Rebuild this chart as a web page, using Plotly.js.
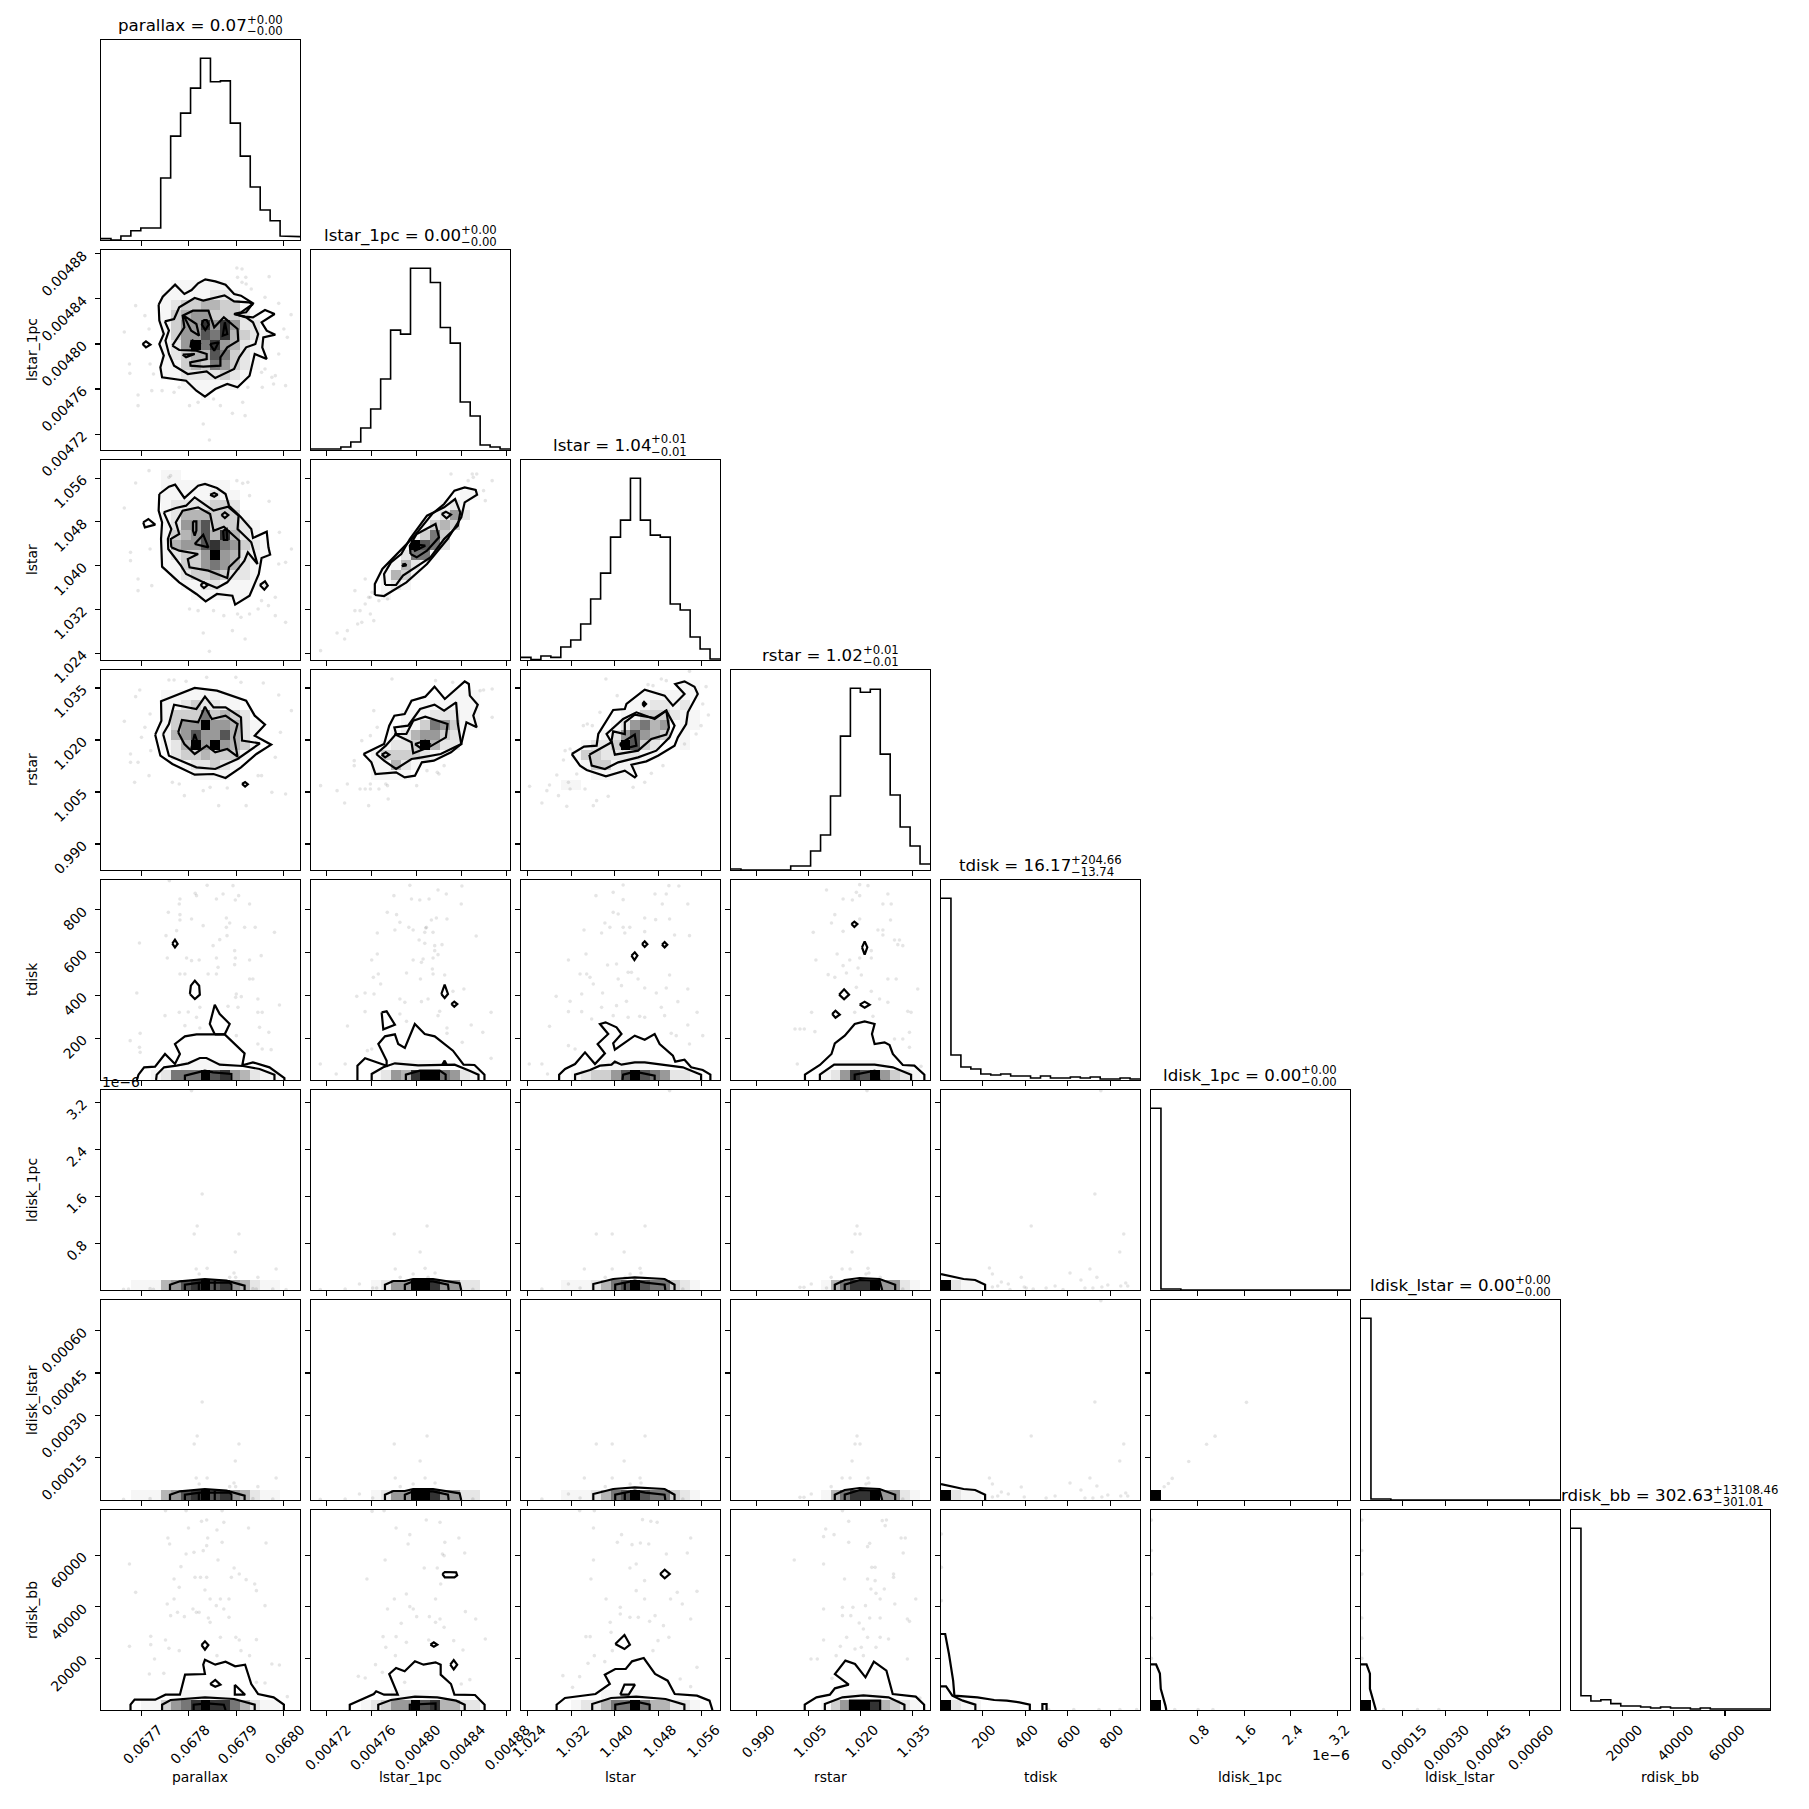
<!DOCTYPE html>
<html><head><meta charset="utf-8">
<script src="https://cdn.plot.ly/plotly-3.0.1.min.js"></script>
<style>html,body{margin:0;padding:0;background:#fff}#plot{width:1809px;height:1809px}</style></head>
<body><div id="plot"></div>
<script>
const labels = ['parallax','lstar_1pc','lstar','rstar','tdisk','ldisk_1pc','ldisk_lstar','rdisk_bb'];
const titleMain = ['parallax = 0.07','lstar_1pc = 0.00','lstar = 1.04','rstar = 1.02','tdisk = 16.17','ldisk_1pc = 0.00','ldisk_lstar = 0.00','rdisk_bb = 302.63'];
const titleUp = ['+0.00','+0.00','+0.01','+0.01','+204.66','+0.00','+0.00','+13108.46'];
const titleDown = ['−0.00','−0.00','−0.01','−0.01','−13.74','−0.00','−0.00','−301.01'];
const ranges = [[0.0676145,0.0680348],[0.0047059,0.0048834],[1.02275,1.05932],[0.9825,1.04019],[4,940],[0.006e-6,3.41e-6],[0.000001,0.000708],[0,77550]];
const tickVals = [[0.0677,0.0678,0.0679,0.068],[0.00472,0.00476,0.0048,0.00484,0.00488],[1.024,1.032,1.04,1.048,1.056],[0.99,1.005,1.02,1.035],[200,400,600,800],[0.8e-6,1.6e-6,2.4e-6,3.2e-6],[0.00015,0.0003,0.00045,0.0006],[20000,40000,60000]];
const tickText = [['0.0677','0.0678','0.0679','0.0680'],['0.00472','0.00476','0.00480','0.00484','0.00488'],['1.024','1.032','1.040','1.048','1.056'],['0.990','1.005','1.020','1.035'],['200','400','600','800'],['0.8','1.6','2.4','3.2'],['0.00015','0.00030','0.00045','0.00060'],['20000','40000','60000']];

// 1-D histograms, 20 bins each
const hist0 = [4,0,12,28,36,36,186,312,381,456,546,475,478,351,252,159,90,58,12,10];
const hist1 = [3,3,3,9,24,66,123,213,360,348,546,546,503,368,321,144,102,15,9,3];
const hist2 = [8,1,12,8,39,60,108,183,261,369,420,546,420,375,369,168,150,69,33,3];
const hist3 = [3,0,0,0,0,0,12,12,57,105,222,402,546,534,543,348,225,129,72,18];
const hist4 = [546,75,39,33,18,15,18,12,12,6,12,6,6,9,6,9,3,3,6,3];
const hist5 = [546,3,3,0,0,0,0,0,0,0,0,0,0,0,0,0,0,0,0,0];
const hist6 = [546,3,3,0,0,0,0,0,0,0,0,0,0,0,0,0,0,0,0,0];
const hist7 = [546,43,27,31,19,12,12,9,6,9,6,6,3,6,3,3,5,3,3,3];
const hists = [hist0,hist1,hist2,hist3,hist4,hist5,hist6,hist7];

// Digitising frames for the 2-D panels: [left, top, width, height] of each panel in the read-out
const frames = {'1_0':[292,748,580,600],'2_0':[292,28,580,600],'2_1':[902,28,580,600],'3_0':[292,658,580,600],'3_1':[902,658,580,600],'3_2':[32,688,600,600],
'4_0':[32,28,600,600],'4_1':[662,28,600,600],'4_2':[32,28,600,600],'4_3':[662,28,600,600],
'5_0':[302,28,600,600],'5_1':[932,28,600,600],'5_2':[32,28,600,600],'5_3':[662,28,600,600],'5_4':[32,28,600,600],
'6_0':[302,658,600,600],'6_1':[932,658,600,600],'6_2':[32,658,600,600],'6_3':[662,658,600,600],'6_4':[32,658,600,600],'6_5':[24,57,469,592],
'7_0':[292,88,580,600],'7_1':[902,88,580,600],'7_2':[25,28,475,600],'7_3':[524,28,475,600],'7_4':[1023,28,475,600],'7_5':[24,680,469,593],'7_6':[517,680,468,593]};

// 2-D histogram cells: [row from the top, digits per column], 0 = empty, 9 = densest
const cells_1_0 = [[3,"0000000111111"],[4,"00000011111221"],[5,"000000123344331"],[6,"0000001345533321"],[7,"0000001355858522"],[8,"00000013557684321"],[9,"00000012596854211"],[10,"0000001234476321"],[11,"0000001134365321"],[12,"000000112222321"],[13,"00000000111111"],[14,"00000000001"]];
const cells_2_0 = [[1,"00000011"],[2,"0000001111111"],[3,"00000011111211"],[4,"00000012222332"],[5,"000000124443331"],[6,"0000001255733321"],[7,"0000001345748421"],[8,"00000014557865321"],[9,"00000012335954211"],[10,"0000001133565421"],[11,"0000000123343221"],[12,"0000000011221111"],[13,"000000000111111"]];
const cells_2_1 = [[3,"00000000000000011"],[4,"0000000000000121"],[5,"0000000000001252"],[6,"000000000001343"],[7,"00000000001363"],[8,"00000000009762"],[9,"0000000002661"],[10,"00000000142"],[11,"00000001431"],[12,"0000000121"],[13,"00000001"]];
const cells_3_0 = [[2,"00000011111111"],[3,"00000011232211"],[4,"000000133363432"],[5,"0000001355955421"],[6,"0000001457557421"],[7,"0000001249595431"],[8,"000000023343331"],[9,"00000000122321"],[10,"0000000001111"]];
const cells_3_1 = [[2,"00000000000000111"],[3,"00000000000111111"],[4,"00000000011122211"],[5,"00000000011365311"],[6,"000000001245532"],[7,"000000012239422"],[8,"0000001333321"],[9,"00000011421"],[10,"0000001111"]];
const cells_3_2 = [[1,"000000000000000011"],[2,"000000000000111111"],[3,"00000000000112212"],[4,"000000000011333211"],[5,"000000000125645011"],[6,"00000000125754301"],[7,"000000122397320 1"],[8,"00000133222211"],[9,"000000133111"],[10,"00000001111"],[11,"000011"]];
const cells_4_0 = [[18,"00000000111110000000"],[19,"000001266697854211"]];
const cells_4_1 = [[18,"00000000111110000000"],[19,"00000012548996521"]];
const cells_4_2 = [[18,"00000000111110000000"],[19,"000001233579765221"]];
const cells_4_3 = [[18,"00000000000111110000"],[19,"0000000001258795321"]];
const cells_5_0 = [[19,"000111457897854211"]];
const cells_5_1 = [[19,"00000012559985522"]];
const cells_5_2 = [[19,"000011124679766321"]];
const cells_5_3 = [[19,"0000000001468895521"]];
const cells_corner = [[19,"9211"]];
const cells_single = [[19,"9"]];
const cells_7_0 = [[18,"00000000111110000000"],[19,"000011356898864211"]];
const cells_7_1 = [[18,"00000000111110000000"],[19,"00000123559784422"]];
const cells_7_2 = [[18,"00000000111110000000"],[19,"000001224669644221"]];
const cells_7_3 = [[18,"00000000000111110000"],[19,"0000000001359984321"]];

// Contours: closed loops and lines that run off the panel
const loops_1_0 = [
[460,912,472,888,492,868,508,852,535,880,556,868,575,848,596,836,625,842,655,852,680,880,700,885,735,908,715,935,680,940,712,948,735,950,770,928,798,940,760,965,775,990,800,1002,765,1010,762,1040,775,1075,740,1060,725,1125,690,1160,660,1150,625,1165,595,1188,570,1170,540,1140,470,1130,465,1100,475,1065,462,1030,475,1000,462,960],
[478,962,505,955,520,920,565,892,590,900,652,884,680,902,722,905,735,910,700,935,680,940,715,950,735,965,750,1000,742,1030,715,1040,695,1070,680,1105,625,1132,600,1112,545,1120,505,1095,490,1060,480,1020,490,990],
[500,1035,520,1005,535,980,530,945,560,930,605,930,622,980,650,950,690,985,692,1020,660,1040,640,1070,640,1095,590,1098,553,1095,552,1085,600,1075,600,1060,570,1050,520,1048],
[533,945,570,970,578,1005,555,990],[590,958,600,958,606,972,596,988,586,972],[653,965,660,1000,647,1005],[556,1018,580,1030,568,1045,553,1038],[610,1030,635,1025,622,1050],[413,1030,423,1022,436,1032,423,1040],[530,1062,565,1060,540,1070]];
const loops_2_0 = [
[462,130,490,108,508,102,535,142,575,105,595,100,630,112,655,130,665,165,700,200,730,235,735,262,775,243,780,290,785,312,760,322,752,370,725,435,683,462,675,435,630,430,597,452,570,430,520,395,470,348,467,265,470,215,460,180],
[475,185,510,172,540,165,565,140,620,180,662,168,693,195,690,235,730,275,748,340,720,305,710,330,695,350,660,395,630,412,590,395,540,370,525,345,488,295,487,265,497,235],
[497,290,495,265,520,250,510,215,530,180,575,170,610,190,620,240,650,228,695,270,695,320,665,350,660,382,605,360,550,350,545,325,575,310,520,300],
[560,212,570,212,570,240,565,255,560,240],[565,280,590,252,605,290],[648,240,658,235,660,268,650,268],[415,215,430,205,450,222,420,230],[610,132,622,127,632,132,622,138],[643,193,653,185,663,193,653,202],[582,403,592,395,603,403,592,412],[755,403,770,392,778,405,768,417]];
const loops_2_1 = [
[1088,433,1088,400,1110,355,1150,312,1200,260,1255,190,1290,160,1320,120,1350,110,1382,118,1386,132,1350,155,1340,200,1300,265,1240,340,1180,395,1115,436],
[1118,403,1115,370,1135,335,1165,310,1190,265,1240,195,1290,170,1322,145,1337,185,1330,225,1290,265,1250,320,1170,375,1150,403],
[1192,310,1190,285,1210,250,1265,220,1275,260,1240,300,1210,320],
[1283,190,1295,183,1310,192,1297,203],[1195,280,1235,285,1205,300],[1168,342,1176,340,1180,344,1170,346]];
const loops_3_0 = [
[450,852,468,810,467,752,510,735,565,712,630,720,715,750,740,795,770,822,740,855,788,882,745,910,700,950,655,982,620,970,565,972,500,940,465,915],
[473,850,490,820,505,762,570,775,595,738,620,770,655,770,700,800,703,870,755,878,690,925,625,955,570,950,490,915],
[517,845,528,808,575,815,595,768,615,805,655,795,690,820,680,860,690,918,660,895,625,905,600,885,565,910,535,880],
[555,895,565,850,580,895],[703,1000,712,994,720,1001,712,1008]];
const loops_3_1 = [
[1055,910,1115,880,1130,825,1145,795,1175,790,1195,750,1235,738,1262,708,1292,745,1350,692,1362,700,1365,735,1388,762,1375,795,1385,830,1355,815,1340,880,1310,905,1260,930,1225,935,1205,975,1175,980,1150,965,1090,970,1078,935],
[1092,910,1120,885,1150,850,1145,830,1185,825,1220,775,1262,762,1290,780,1325,755,1330,820,1340,880,1280,910,1225,920,1195,925,1150,955,1115,930],
[1145,850,1180,850,1200,810,1235,798,1300,820,1295,860,1245,890,1200,908,1195,875],
[1108,912,1120,905,1130,912,1118,920],[1205,880,1235,870,1248,880,1225,895]];
const loops_3_2 = [
[185,940,222,918,260,915,265,880,310,808,345,805,350,790,405,747,465,765,490,795,525,760,497,730,525,722,555,738,565,760,535,815,530,850,505,890,495,915,445,945,410,962,365,972,380,1005,375,1010,345,990,288,1007,230,988,210,975],
[238,942,280,920,305,905,290,880,340,835,380,815,435,835,470,810,495,855,480,890,440,930,385,950,325,965,285,985,245,975],
[305,900,310,872,345,880,345,845,375,822,435,832,470,810,478,860,470,882,425,895,385,930,315,942],
[330,910,375,882,380,915,340,925],[398,790,403,784,409,790,403,796]];
const loops_4_0 = [[247,219,255,207,263,220,255,230],[300,370,303,345,315,330,328,345,330,372,315,385],[375,491,360,460,375,402,390,430,420,460,405,491]];
const open_4_0 = [[140,628,145,612,162,590,195,588,225,550,255,580,270,550,255,520,285,497,320,491,405,491,465,548,458,584,490,575,540,590,585,622,585,628],[198,628,200,612,222,590,260,585,295,578,330,562,350,562,390,582,460,586,510,595,555,612,555,628],[285,628,285,615,345,600,370,605,425,610,425,628]];
const loops_4_1 = [[1058,582,1065,570,1071,582],[1055,370,1065,342,1075,370,1065,382],[1085,400,1094,393,1103,400,1094,408],[875,425,890,422,915,462,880,476]];
const open_4_1 = [[802,628,802,585,825,563,890,585,890,570,865,520,885,497,915,491,925,520,945,532,975,460,1005,490,1035,497,1090,540,1122,582,1155,583,1185,612,1185,628],[845,628,845,610,880,590,915,578,985,584,1040,582,1095,582,1140,600,1167,612,1167,628],[948,628,948,612,990,600,1050,600,1068,612,1068,628]];
const loops_4_2 = [[365,255,375,245,383,255,374,268],[397,220,405,212,413,221,405,229],[457,222,465,214,473,222,465,230]];
const open_4_2 = [[147,628,147,612,165,595,195,580,225,545,255,580,285,548,263,520,295,490,270,460,287,455,320,470,335,490,310,518,315,537,375,495,405,507,435,490,450,520,490,555,497,573,525,567,545,590,580,598,603,612,603,628],[195,628,195,612,240,598,270,585,305,582,315,573,335,582,375,575,405,575,465,583,520,590,575,612,575,628],[338,628,340,612,375,603,435,615,435,628]];
const loops_4_3 = [[1025,160,1034,153,1043,160,1034,169],[1057,230,1065,212,1073,230,1065,252],[988,372,1003,356,1018,372,1003,386],[1050,402,1065,393,1080,402,1065,411],[967,430,977,420,990,432,977,441]];
const open_4_3 = [[885,628,885,612,930,583,965,550,975,518,1005,495,1035,460,1065,452,1095,460,1087,490,1095,520,1125,515,1140,523,1150,550,1180,583,1215,585,1245,612,1245,628],[930,628,930,612,973,582,1095,582,1150,590,1205,612,1205,628],[1035,628,1035,612,1095,600,1110,628]];
const open_5_0 = [[510,628,510,612,540,602,615,595,680,600,735,615,735,628],[555,628,555,612,600,606,690,606,695,612,695,628],[597,628,597,606],[645,628,645,600]];
const open_5_1 = [[1155,628,1155,612,1180,601,1215,601,1240,595,1300,595,1380,608,1385,628],[1215,628,1215,612,1240,602,1300,602,1345,612,1347,628]];
const open_5_2 = [[250,628,250,610,310,595,375,590,465,595,495,612,495,628],[316,628,316,612,375,600,407,606,465,612,467,628],[345,628,345,606]];
const open_5_3 = [[975,628,975,612,1005,598,1050,592,1110,595,1157,612,1157,628],[1005,628,1005,612,1050,598,1110,600,1118,628]];
const open_5_4 = [[32,580,55,585,100,595,135,598,165,612,165,628]];
const loops_7_0 = [[585,493,595,482,605,493,595,507],[610,610,625,598,640,612,625,618],[682,612,712,642,682,642]];
const open_7_0 = [[378,688,378,672,390,657,450,657,480,642,522,642,537,582,595,580,590,552,595,537,625,552,655,543,683,557,712,552,730,610,750,640,795,650,825,672,825,688],[470,688,470,672,495,658,595,650,680,655,740,672,740,688],[562,688,562,672,600,668,650,672,655,688]];
const loops_7_1 = [[1285,280,1292,274,1325,275,1328,284,1320,290,1292,290],[1250,492,1260,485,1270,492,1260,498],[1308,552,1318,538,1328,552,1318,566]];
const open_7_1 = [[1015,688,1015,672,1085,640,1092,632,1115,642,1155,642,1130,580,1150,562,1175,572,1205,542,1230,552,1265,545,1280,552,1280,582,1310,610,1320,642,1380,643,1408,672,1408,688],[1098,688,1098,672,1135,658,1205,648,1270,650,1325,660,1350,672,1350,688],[1190,688,1190,672,1265,668,1265,688]];
const loops_7_2 = [[250,430,272,403,285,432,272,445],[262,582,272,552,297,552,282,582],[357,220,368,207,380,220,368,233]];
const open_7_2 = [[110,628,110,612,130,592,165,587,203,580,237,550,225,522,250,505,275,505,290,482,318,472,345,520,375,540,392,580,445,585,475,600,482,628],[195,628,195,610,240,592,300,588,370,595,415,612,415,628],[250,628,250,612,297,602,332,612,332,628]];
const open_7_3 = [[700,628,700,612,728,590,760,582,772,563,805,552,772,520,797,480,820,490,845,530,865,483,895,510,910,580,965,588,985,612,985,628],[748,628,748,610,790,590,840,584,900,590,938,612,938,628],[808,628,808,600,880,600,880,628]];
const open_7_4 = [[1023,400,1033,400,1042,460,1052,540,1055,585,1110,590,1150,598,1180,600,1210,605,1235,612,1235,628],[1023,557,1035,557,1050,585,1075,600,1105,612,1105,628],[1265,628,1265,610,1275,610,1275,628]];
const open_7_5 = [[24,1138,36,1138,45,1165,47,1210,58,1260,60,1273]];
const open_7_6 = [[517,1138,530,1138,538,1165,538,1210,552,1273]];

// Individual samples outside the contours
const pts_1_0 = [688,802,703,805,714,830,703,845,715,850,730,865,690,830,782,828,770,890,810,908,846,942,393,915,420,945,432,985,360,994,375,1090,376,1118,435,1090,445,1120,400,1183,400,1215,505,1175,550,1215,590,1270,608,1318,675,1238,712,1245,705,1205,620,1195,770,1105,790,1130,800,1125,830,1155,795,1150,762,1160,720,1160,760,1115,810,1060,825,985,835,1010,440,1170,470,1170,520,1160,575,1205,640,1215];
const pts_2_0 = [432,60,393,97,360,172,378,305,378,330,400,385,400,420,435,295,440,405,495,75,490,80,688,90,705,98,720,95,725,135,782,152,812,245,847,295,830,335,810,340,770,405,800,440,830,515,800,495,750,475,725,490,690,490,650,495,590,547,675,540,712,565,608,602,550,475,575,480,620,480,700,500,760,450,780,465];
const pts_2_1 = [1372,70,1385,70,1430,90,1375,80,1310,70,1405,120,1410,150,1360,90,1030,420,1060,385,1075,440,1045,480,1075,490,1030,480,1085,510,1050,515,1100,450,1125,445,978,547,1008,540,1000,565,930,600,1038,520,1060,460,1070,440,1080,425];
const pts_3_0 = [405,718,393,738,360,812,378,910,378,935,400,935,410,860,435,790,437,900,420,830,490,688,505,688,540,692,600,680,685,680,700,695,765,697,810,733,847,780,815,845,800,920,790,1025,830,1030,760,975,750,975,715,1065,660,1012,635,1065,590,1020,535,1035,610,1010,500,995,520,1000,390,995,432,975];
const pts_3_1 = [1138,685,1265,690,1315,695,1395,720,1405,718,1430,715,1430,800,1050,870,1075,855,1028,930,1028,945,1075,1000,930,1005,978,1020,1008,1000,1000,1057,1045,1015,1060,1015,1075,1015,1100,1015,1125,1005,1127,1045,1070,1065,1120,1000,1210,1005,1275,970,1290,945,1240,960,1095,830,1085,780,1270,965];
const pts_3_2 = [288,715,322,765,415,732,430,735,455,715,470,720,540,692,590,738,580,790,597,823,575,855,270,815,247,855,232,850,220,855,160,958,165,930,180,925,140,1003,118,1033,58,1037,110,1050,145,1065,95,1087,170,1097,175,1025,180,1045,200,1000,225,1045,260,1080,250,1095,295,1067,370,1040,405,1025,425,998,460,975,525,910,560,880];
const pts_4_0 = [238,30,352,44,316,68,320,75,380,85,400,70,430,45,447,75,437,88,270,85,268,100,235,125,480,100,270,132,305,145,270,148,340,165,410,142,420,157,410,170,465,170,497,170,555,185,260,180,228,195,148,217,390,207,412,195,370,225,435,240,232,262,290,262,305,270,328,268,380,262,437,262,480,268,515,255,270,310,285,310,355,310,385,290,380,310,435,282,140,367,440,370,438,380,455,378,505,385,480,325,490,325,570,403,330,410,225,435,268,425,295,424,320,440,505,425,518,425,445,410,415,407,285,465,330,472,440,495,150,488,510,470,538,485,148,530,120,510,150,545,505,520,518,535,545,537];
const pts_4_1 = [960,44,1117,46,1045,58,912,75,1070,70,990,88,1115,100,965,85,1018,85,892,125,920,132,1072,145,930,155,1025,148,1040,142,957,170,1008,172,862,187,915,178,970,178,1005,185,1010,170,1030,185,1160,196,988,208,1005,218,1035,225,1057,222,1035,240,862,250,1030,262,1045,252,845,268,970,268,1000,265,995,275,950,307,865,310,850,320,1028,295,1030,310,992,325,872,340,1065,313,852,370,825,367,800,377,930,385,945,395,995,393,1015,385,1050,422,1045,435,1123,355,1090,362,825,423,930,430,950,452,1205,425,772,466,1072,472,1072,488,1145,463,1180,485,832,540,845,535,1118,515,1205,563,690,580,765,580,738,610];
const pts_4_2 = [340,43,478,45,508,46,310,65,436,70,470,70,258,75,340,87,458,100,535,100,310,125,325,130,405,142,438,147,480,145,285,157,300,170,340,170,360,170,222,178,275,187,345,187,405,183,540,195,495,193,175,268,228,250,293,283,320,280,210,310,230,310,240,320,325,325,355,305,365,305,480,313,335,345,385,325,250,340,405,352,470,352,535,355,138,377,215,370,278,367,320,405,350,392,180,392,440,367,505,393,275,410,215,423,175,423,455,410,563,425,245,445,310,435,355,440,390,437,405,440,465,435,118,467,535,463,580,495,485,488,500,495,540,520,175,525,195,535,57,580,95,580,112,610];
const pts_4_3 = [1050,42,1075,45,950,58,1040,65,1135,70,1028,88,1050,75,1120,100,1145,100,1000,85,975,132,1050,145,1143,148,965,157,910,185,1000,182,1105,178,1120,178,1120,193,1155,208,1170,208,1165,222,1180,225,1085,240,982,250,918,268,1020,268,1050,262,1085,262,1000,285,1045,292,955,312,1010,307,1055,313,1135,325,1160,325,975,320,1040,350,1085,362,1225,355,1110,385,1135,395,905,425,1035,425,1090,437,1195,422,1205,425,855,475,870,475,883,475,915,483,1155,505,1200,485,1180,505,1200,530,1235,587,862,580];
const pts_5_0 = [607,340,592,436,583,460,718,460,707,514,589,565,622,563,830,565,598,580,703,577,690,590,708,590,775,590,575,30,370,626,385,625,450,624,460,626,760,624,770,625,820,625,860,627];
const pts_5_1 = [1282,436,1183,460,1261,514,1186,565,1276,563,1201,590,1240,580,1306,577,1285,590,1078,610,1118,622,1130,622,1035,625,960,627,1420,626];
const pts_5_2 = [406,436,259,460,307,460,343,514,223,565,307,565,391,563,394,577,286,590,361,580,346,590,175,610,210,622,95,625,520,625,480,30];
const pts_5_3 = [1042,436,1036,460,1051,460,1027,514,997,565,1021,565,1075,563,1078,577,1069,580,964,590,904,610,870,620,882,620,950,622,1112,590,1180,625,1072,30];
const pts_5_4 = [496,340,304,436,583,460,571,514,178,562,481,565,187,580,421,577,274,590,454,598,502,590,214,604,589,607,235,610,203,616,517,619,535,613,574,616,595,616,376,616,187,619,283,619,349,622,466,622,490,622,289,622,310,625,514,30,240,627,400,627];
const pts_6_0 = [607,964,592,1066,583,1090,718,1090,707,1141,589,1192,622,1192,830,1192,598,1210,703,1207,690,1218,708,1218,775,1218,370,1256,450,1254,760,1254,820,1255];
const pts_6_1 = [1282,1066,1183,1090,1261,1141,1186,1192,1276,1192,1201,1218,1240,1210,1306,1207,1078,1240,1118,1252,1035,1255,960,1256,1420,1255];
const pts_6_2 = [406,1066,259,1090,307,1090,343,1141,223,1192,307,1192,391,1192,394,1207,286,1218,361,1210,175,1240,210,1252,95,1255,520,1255];
const pts_6_3 = [1042,1066,1036,1090,1051,1090,1027,1141,997,1192,1021,1192,1075,1192,1078,1207,1069,1210,964,1218,904,1240,870,1250,882,1250,1180,1255];
const pts_6_4 = [496,964,304,1066,583,1090,571,1141,178,1192,481,1192,187,1210,421,1207,274,1219,454,1228,502,1216,214,1234,589,1237,235,1240,203,1246,517,1249,535,1243,574,1246,595,1246,376,1246,187,1249,283,1249,349,1252,466,1252,490,1252,514,660];
const pts_6_5 = [249,360,175,460,155,484,113,535,74,585,65,600,55,610];
const pts_7_0 = [480,90,540,90,645,90,600,118,585,122,650,125,547,142,630,148,722,142,487,172,492,190,603,172,645,185,773,187,375,250,525,258,563,215,540,220,633,238,590,210,600,195,680,262,695,280,505,295,566,290,582,290,600,290,672,290,715,297,740,310,520,320,595,328,745,330,393,335,610,355,640,355,665,355,505,355,485,370,770,375,560,385,570,395,628,375,650,385,495,405,515,395,535,408,605,412,578,395,665,410,610,425,437,467,480,478,640,470,685,470,695,478,745,477,375,497,437,492,490,503,520,510,700,510,725,525,630,525,448,535,475,578,433,580,790,550,812,553,745,605,770,607,835,648];
const pts_7_1 = [1080,92,1115,90,1238,118,1278,125,1150,142,1333,172,1190,162,1185,190,1292,185,1350,217,1285,220,1290,225,1118,238,1232,262,1270,262,1065,295,1180,340,1280,310,1265,355,1145,355,1190,378,1210,408,1125,385,1200,385,1165,428,1247,408,1278,415,1265,425,1290,440,1352,393,1382,415,1410,475,1112,468,1150,468,1180,485,1120,500,1245,478,1318,480,1345,508,1148,525,1090,552,1040,587,1060,592,1110,575,1365,597,1340,610,1175,605];
const pts_7_2 = [165,30,200,30,315,57,335,62,350,65,198,82,265,102,430,112,255,125,290,132,310,127,330,130,372,160,422,157,198,178,300,190,285,202,192,235,320,240,300,270,228,295,262,320,320,295,382,295,445,272,398,275,410,310,262,340,285,350,345,345,305,350,332,362,238,365,365,375,430,355,180,408,190,408,240,395,378,410,200,465,185,488,225,483,243,450,445,500,352,420,340,450,125,525,165,528,148,560,405,535,430,558];
const pts_7_3 = [790,30,805,62,750,85,770,102,745,108,805,125,855,128,850,138,885,60,895,58,892,75,930,112,940,112,935,157,675,178,745,190,860,200,868,200,850,235,912,220,912,230,868,240,858,265,890,265,870,278,880,295,795,235,965,295,915,310,790,320,815,320,745,325,845,315,790,345,810,345,855,352,880,352,945,355,950,362,830,367,840,385,800,410,745,418,850,410,880,410,900,415,785,437,820,445,835,440,870,440,775,465,840,465,715,475,730,475,945,475,765,533,975,592];
const pts_7_4 = [1280,627,1340,627,1400,627,1450,627,1490,627,1024,100,1024,200,1024,300];
const pts_7_5 = [25,710,25,800,25,870,25,1000,25,1060,25,1120,170,1272,135,1272,80,1272];
const pts_7_6 = [519,710,519,800,519,870,519,1000,519,1060,519,1120,570,1272,650,1272,700,1272];

const cellTable = {'1_0':cells_1_0,'2_0':cells_2_0,'2_1':cells_2_1,'3_0':cells_3_0,'3_1':cells_3_1,'3_2':cells_3_2,'4_0':cells_4_0,'4_1':cells_4_1,'4_2':cells_4_2,'4_3':cells_4_3,'5_0':cells_5_0,'5_1':cells_5_1,'5_2':cells_5_2,'5_3':cells_5_3,'5_4':cells_corner,'6_0':cells_5_0,'6_1':cells_5_1,'6_2':cells_5_2,'6_3':cells_5_3,'6_4':cells_corner,'6_5':cells_single,'7_0':cells_7_0,'7_1':cells_7_1,'7_2':cells_7_2,'7_3':cells_7_3,'7_4':cells_corner,'7_5':cells_single,'7_6':cells_single};
const loopTable = {'1_0':loops_1_0,'2_0':loops_2_0,'2_1':loops_2_1,'3_0':loops_3_0,'3_1':loops_3_1,'3_2':loops_3_2,'4_0':loops_4_0,'4_1':loops_4_1,'4_2':loops_4_2,'4_3':loops_4_3,'7_0':loops_7_0,'7_1':loops_7_1,'7_2':loops_7_2};
const openTable = {'4_0':open_4_0,'4_1':open_4_1,'4_2':open_4_2,'4_3':open_4_3,'5_0':open_5_0,'5_1':open_5_1,'5_2':open_5_2,'5_3':open_5_3,'5_4':open_5_4,'6_0':open_5_0,'6_1':open_5_1,'6_2':open_5_2,'6_3':open_5_3,'6_4':open_5_4,'7_0':open_7_0,'7_1':open_7_1,'7_2':open_7_2,'7_3':open_7_3,'7_4':open_7_4,'7_5':open_7_5,'7_6':open_7_6};
const ptsTable = {'1_0':pts_1_0,'2_0':pts_2_0,'2_1':pts_2_1,'3_0':pts_3_0,'3_1':pts_3_1,'3_2':pts_3_2,'4_0':pts_4_0,'4_1':pts_4_1,'4_2':pts_4_2,'4_3':pts_4_3,'5_0':pts_5_0,'5_1':pts_5_1,'5_2':pts_5_2,'5_3':pts_5_3,'5_4':pts_5_4,'6_0':pts_6_0,'6_1':pts_6_1,'6_2':pts_6_2,'6_3':pts_6_3,'6_4':pts_6_4,'6_5':pts_6_5,'7_0':pts_7_0,'7_1':pts_7_1,'7_2':pts_7_2,'7_3':pts_7_3,'7_4':pts_7_4,'7_5':pts_7_5,'7_6':pts_7_6};

const SIZE = 1809, FONT = 'DejaVu Sans', TICK = 13.9, TITLE = 16.67, SCRIPT = 11.67;
const grays = ['#ffffff','#f6f6f6','#e6e6e6','#cfcfcf','#b5b5b5','#999999','#777777','#555555','#333333','#000000'];
const colorscale = grays.map((g,i)=>[i/9,g]);
const ctx = document.createElement('canvas').getContext('2d');
const textW = (t,s)=>{ctx.font=s+'px "'+FONT+'"';return ctx.measureText(t).width;};
const traces = [], annotations = [], layout = {
  width:SIZE,height:SIZE,margin:{l:0,r:0,t:0,b:0},paper_bgcolor:'#fff',plot_bgcolor:'rgba(0,0,0,0)',showlegend:false,font:{family:FONT,size:TICK,color:'#000'}
};
const note = (text,px,py,o)=>annotations.push(Object.assign({text,xref:'paper',yref:'paper',x:px/SIZE,y:1-py/SIZE,showarrow:false,xanchor:'center',yanchor:'middle',borderpad:0,borderwidth:0,font:{family:FONT,size:TICK,color:'#000'}},o||{}));

let n = 0;
const axisBase = {showgrid:false,zeroline:false,showline:true,linecolor:'#000',linewidth:1.1,mirror:true,ticks:'outside',ticklen:5,tickwidth:1.1,tickcolor:'#000',tickmode:'array',tickangle:-45,tickfont:{family:FONT,size:TICK,color:'#000'},fixedrange:true};

for (let r=0;r<8;r++) for (let c=0;c<=r;c++) {
  n++;
  const xa='x'+(n===1?'':n), ya='y'+(n===1?'':n);
  const left=100+210*c, top=40+210*r;
  const xl = r===7;
  const wx = Math.max(...tickText[c].map(t=>textW(t,TICK)));
  layout['xaxis'+(n===1?'':n)] = Object.assign({},axisBase,{domain:[(left+1)/SIZE,(left+200)/SIZE],range:ranges[c],anchor:ya,tickvals:tickVals[c],ticktext:tickText[c],showticklabels:xl,ticklabelshift:Math.round(wx*0.354)});
  if (r===c) {
    layout['yaxis'+(n===1?'':n)] = Object.assign({},axisBase,{domain:[1-(top+200)/SIZE,1-top/SIZE],range:[0,600.6],anchor:xa,ticks:'',tickvals:[],showticklabels:false});
    const w=(ranges[c][1]-ranges[c][0])/20, xs=[], ys=[];
    hists[c].forEach((h,i)=>{xs.push(ranges[c][0]+w*i,ranges[c][0]+w*(i+1));ys.push(h,h);});
    traces.push({type:'scatter',mode:'lines',x:xs,y:ys,xaxis:xa,yaxis:ya,line:{color:'#000',width:1.6},hoverinfo:'skip'});
    const mw=textW(titleMain[c],TITLE), sw=Math.max(textW(titleUp[c],SCRIPT),textW(titleDown[c],SCRIPT));
    const start=left+100-(mw+sw)/2;
    note(titleMain[c],start,top-14.5,{xanchor:'left',font:{family:FONT,size:TITLE,color:'#000'}});
    note(titleUp[c],start+mw,top-20.5,{xanchor:'left',font:{family:FONT,size:SCRIPT,color:'#000'}});
    note(titleDown[c],start+mw,top-8.5,{xanchor:'left',font:{family:FONT,size:SCRIPT,color:'#000'}});
    continue;
  }
  const yl = c===0;
  layout['yaxis'+(n===1?'':n)] = Object.assign({},axisBase,{domain:[1-(top+200)/SIZE,1-top/SIZE],range:ranges[r],anchor:xa,tickvals:tickVals[r],ticktext:tickText[r],showticklabels:yl,ticklabelstandoff:9});
  const key=r+'_'+c, F=frames[key];
  const CF = r===6 && c<5 ? frames['5_'+c] : F;
  const [xlo,xhi]=ranges[c],[ylo,yhi]=ranges[r];
  const toX=(p,f)=>xlo+(xhi-xlo)*(p-f[0])/f[2], toY=(p,f)=>yhi-(yhi-ylo)*(p-f[1])/f[3];
  // 2-D histogram
  const z=Array.from({length:20},()=>new Array(20).fill(0));
  (cellTable[key]||[]).forEach(([row,s])=>{[...s].forEach((d,i)=>{if(i<20&&d!==' ')z[19-row][i]=+d;});});
  const bx=[...Array(20).keys()].map(i=>xlo+(xhi-xlo)*(i+.5)/20), by=[...Array(20).keys()].map(i=>ylo+(yhi-ylo)*(i+.5)/20);
  traces.push({type:'heatmap',x:bx,y:by,z,xaxis:xa,yaxis:ya,zmin:0,zmax:9,colorscale,showscale:false,hoverinfo:'skip'});
  // samples
  const P=ptsTable[key]||[], px=[], py=[];
  for(let i=0;i<P.length;i+=2){px.push(toX(P[i],F));py.push(toY(P[i+1],F));}
  traces.push({type:'scatter',mode:'markers',x:px,y:py,xaxis:xa,yaxis:ya,marker:{color:'rgba(0,0,0,0.1)',size:3.6},hoverinfo:'skip',cliponaxis:true});
  // contours
  const line=(a,close)=>{const x=[],y=[];for(let i=0;i<a.length;i+=2){x.push(toX(a[i],CF));y.push(toY(a[i+1],CF));}
    if(close){x.push(x[0]);y.push(y[0]);}
    traces.push({type:'scatter',mode:'lines',x,y,xaxis:xa,yaxis:ya,line:{color:'#000',width:2.2},hoverinfo:'skip'});};
  (loopTable[key]||[]).forEach(a=>line(a,true));
  (openTable[key]||[]).forEach(a=>line(a,false));
}
for (let i=0;i<8;i++){
  note(labels[i],200+210*i,1777);
  if(i>0) note(labels[i],32,140+210*i,{textangle:-90});
}
note('1e−6',1350,1755,{xanchor:'right'});
note('1e−6',102,1082,{xanchor:'left'});
layout.annotations=annotations;
Plotly.newPlot('plot',traces,layout,{staticPlot:true,displayModeBar:false});
</script></body></html>
